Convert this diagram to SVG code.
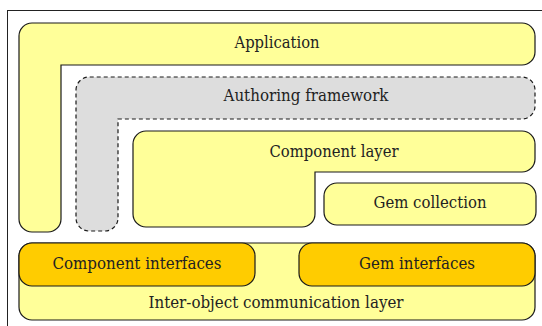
<svg xmlns="http://www.w3.org/2000/svg" width="542" height="326" viewBox="0 0 542 326">
<style>
.y{fill:#FFFF99;stroke:#1a1a1a;stroke-width:1.2}
.o{fill:#FFCC00;stroke:#1a1a1a;stroke-width:1.2}
.g{fill:#DDDDDD;stroke:#1a1a1a;stroke-width:1.2;stroke-dasharray:4 3}
text{font-family:"DejaVu Serif",serif;font-size:16px;fill:#222;text-anchor:middle}
</style>
<rect x="7.5" y="10.5" width="545" height="330" fill="#fff" stroke="#222" stroke-width="1"/>
<g id="application">
<path class="y" d="M19,36 A13,13 0 0 1 32,23 H522 A13,13 0 0 1 535,36 V52 A13,13 0 0 1 522,65 H61 V219 A13,13 0 0 1 48,232 H32 A13,13 0 0 1 19,219 Z"/>
<text x="277" y="48" textLength="85" lengthAdjust="spacingAndGlyphs">Application</text>
</g>
<g id="authoring">
<path class="g" d="M76,90 A13,13 0 0 1 89,77 H522 A13,13 0 0 1 535,90 V106 A13,13 0 0 1 522,119 H118 V218 A13,13 0 0 1 105,231 H89 A13,13 0 0 1 76,218 Z"/>
<text x="306" y="101" textLength="165" lengthAdjust="spacingAndGlyphs">Authoring framework</text>
</g>
<g id="component-layer">
<path class="y" d="M133,144 A13,13 0 0 1 146,131 H522 A13,13 0 0 1 535,144 V159 A13,13 0 0 1 522,172 H315 V214 A13,13 0 0 1 302,227 H146 A13,13 0 0 1 133,214 Z"/>
<text x="334" y="157" textLength="129" lengthAdjust="spacingAndGlyphs">Component layer</text>
</g>
<g id="gem-collection">
<rect class="y" x="324" y="183" width="212" height="42" rx="13"/>
<text x="430" y="208" textLength="113" lengthAdjust="spacingAndGlyphs">Gem collection</text>
</g>
<g id="inter-object">
<rect class="y" x="19" y="243" width="516" height="77" rx="13"/>
<text x="276" y="308" textLength="255" lengthAdjust="spacingAndGlyphs">Inter-object communication layer</text>
</g>
<g id="component-interfaces">
<rect class="o" x="19" y="243" width="236" height="43" rx="13"/>
<text x="137" y="269" textLength="169" lengthAdjust="spacingAndGlyphs">Component interfaces</text>
</g>
<g id="gem-interfaces">
<rect class="o" x="299" y="243" width="236" height="43" rx="13"/>
<text x="417" y="269" textLength="116" lengthAdjust="spacingAndGlyphs">Gem interfaces</text>
</g>
<g id="connectors"/>
</svg>
